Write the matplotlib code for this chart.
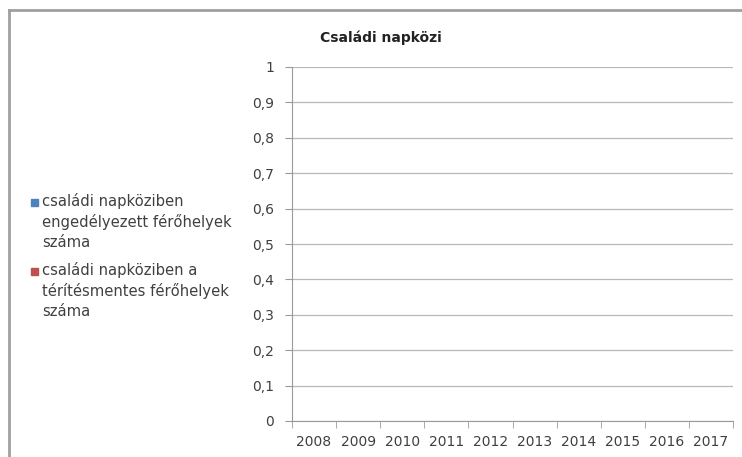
import numpy as np
import matplotlib.pyplot as plt
from matplotlib.patches import Rectangle

# adatok (a diagram üres, nincs megjelenített érték)
years = ["2008", "2009", "2010", "2011", "2012", "2013", "2014", "2015", "2016", "2017"]
engedelyezett = [np.nan] * len(years)
teritesmentes = [np.nan] * len(years)
series_names = ["családi napköziben\nengedélyezett férőhelyek\nszáma",
                "családi napköziben a\ntérítésmentes férőhelyek\nszáma"]
series_colors = ["#4F81BD", "#C0504D"]
yticks = [0, 0.1, 0.2, 0.3, 0.4, 0.5, 0.6, 0.7, 0.8, 0.9, 1]

plt.rcParams['font.family'] = ['DejaVu Sans']
txt_color = "#404040"

fig = plt.figure(figsize=(7.42, 4.57), dpi=100)
ax = fig.add_axes([292 / 742, 1 - 421 / 457, (733 - 292) / 742, (421 - 67) / 457])

x = np.arange(len(years))
w = 0.35
ax.bar(x - w / 2, engedelyezett, w, color=series_colors[0])
ax.bar(x + w / 2, teritesmentes, w, color=series_colors[1])

ax.set_xlim(-0.5, len(years) - 0.5)
ax.set_ylim(0, 1)
ax.set_yticks(yticks)
ax.set_yticklabels([("%g" % t).replace(".", ",") for t in yticks])
ax.set_xticks(x)
ax.set_xticklabels(years)
ax.set_xticks(np.arange(len(years) + 1) - 0.5, minor=True)

ax.grid(axis='y', color='#b8b8b8', linewidth=0.9)
ax.set_axisbelow(True)
for s in ['top', 'right']:
    ax.spines[s].set_visible(False)
ax.spines['left'].set_color('#9a9a9a')
ax.spines['bottom'].set_color('#9a9a9a')
ax.tick_params(axis='y', length=5, color='#9a9a9a', labelsize=10, labelcolor=txt_color, pad=8)
ax.tick_params(axis='x', which='major', length=0, labelsize=10, labelcolor=txt_color, pad=10)
ax.tick_params(axis='x', which='minor', length=5, color='#9a9a9a')

fig.text(381 / 742, 1 - 38 / 457, "Családi napközi", ha='center', va='center',
         fontsize=10, fontweight='bold', color='#222222')

# jelmagyarázat kézzel, a jel az első sorhoz igazítva
entry_y = [202, 271]
for name, col, yy in zip(series_names, series_colors, entry_y):
    fig.add_artist(Rectangle((31 / 742, 1 - (yy + 3.5) / 457), 7 / 742, 7 / 457,
                             transform=fig.transFigure, color=col))
    fig.text(42 / 742, 1 - (yy - 9) / 457, name, ha='left', va='top', fontsize=10.6,
             color=txt_color, linespacing=1.38)

# keret
fig.add_artist(plt.Line2D([9 / 742, 9 / 742], [0, 1 - 10 / 457], color='#a0a0a0', lw=2))
fig.add_artist(plt.Line2D([9 / 742, 1], [1 - 10 / 457, 1 - 10 / 457], color='#a0a0a0', lw=2))

fig.savefig("out.png", dpi=100)
